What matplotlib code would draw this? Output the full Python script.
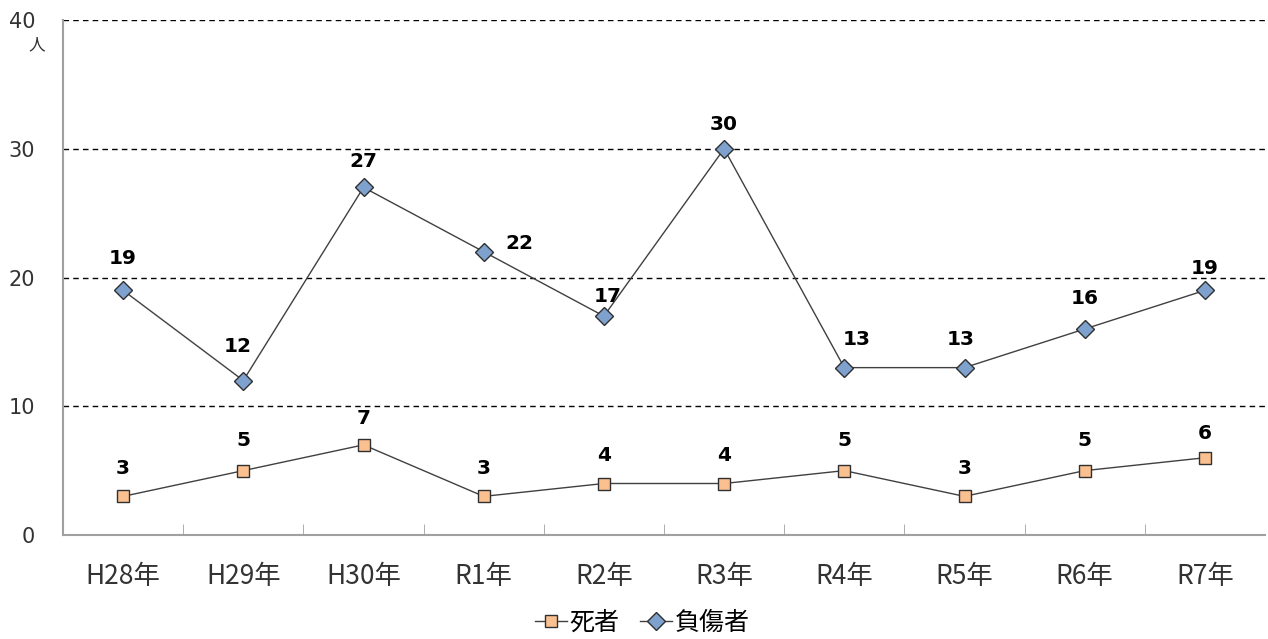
import matplotlib.pyplot as plt
import numpy as np

plt.rcParams['font.family'] = ['Noto Sans CJK JP', 'DejaVu Sans']

years = ['H28年', 'H29年', 'H30年', 'R1年', 'R2年', 'R3年', 'R4年', 'R5年', 'R6年', 'R7年']
deaths = [3, 5, 7, 3, 4, 4, 5, 3, 5, 6]
injured = [19, 12, 27, 22, 17, 30, 13, 13, 16, 19]

# label offsets in pixels (x, y)
inj_off = [(0, 32), (-6, 34), (0, 26), (36, 8), (4, 20), (0, 24), (12, 28), (-4, 28), (0, 30), (0, 22)]
dth_off = [(0, 28), (0, 30), (0, 26), (0, 28), (0, 28), (0, 28), (0, 30), (0, 28), (0, 30), (0, 24)]

fig = plt.figure(figsize=(12.68, 6.39), dpi=100)
ax = fig.add_axes([63 / 1268, 104 / 639, 1202 / 1268, 515 / 639])

x = np.arange(len(years))
ax.plot(x, deaths, color='#404040', lw=1, marker='s', ms=9, mfc='#FAC090',
        mec='#303030', mew=1, label='死者', zorder=3)
ax.plot(x, injured, color='#404040', lw=1, marker='D', ms=9, mfc='#7EA1CE',
        mec='#303030', mew=1, label='負傷者', zorder=3)

for i in range(len(x)):
    ax.annotate(str(injured[i]), (x[i], injured[i]), xytext=inj_off[i],
                textcoords='offset pixels', ha='center', va='center',
                fontsize=14.5, fontweight='bold', family='DejaVu Sans')
    ax.annotate(str(deaths[i]), (x[i], deaths[i]), xytext=dth_off[i],
                textcoords='offset pixels', ha='center', va='center',
                fontsize=14.5, fontweight='bold', family='DejaVu Sans')

ax.set_xlim(-0.5, len(years) - 0.5)
ax.set_ylim(0, 40)
ax.set_yticks([0, 10, 20, 30, 40])
ax.set_yticklabels(['0', '10', '20', '30', '40'], fontsize=15, color='#333333',
                   family='DejaVu Sans')
ax.tick_params(axis='y', length=0, pad=20)
ax.set_xticks(x)
ax.set_xticklabels(years, fontsize=19, color='#333333')
ax.tick_params(axis='x', length=0, pad=20)
ax.set_xticks(np.arange(0.5, len(years) - 1, 1), minor=True)
ax.tick_params(axis='x', which='minor', direction='in', length=8, color='#a0a0a0')

for y in [10, 20, 30, 40]:
    ax.axhline(y, color='black', lw=1, ls=(0, (4, 3)), zorder=1)

for s in ['top', 'right']:
    ax.spines[s].set_visible(False)
for s in ['left', 'bottom']:
    ax.spines[s].set_color('#a0a0a0')
    ax.spines[s].set_linewidth(1.5)

fig.text(37 / 1268, 1 - 45 / 639, '人', fontsize=12, ha='center', va='center',
         color='#333333')

fig.legend(loc='center', bbox_to_anchor=(642 / 1268, 1 - 623 / 639), ncol=2,
           frameon=False, fontsize=18, handlelength=1.3, handletextpad=0.1,
           columnspacing=0.8)

fig.savefig('out.png', dpi=100)
